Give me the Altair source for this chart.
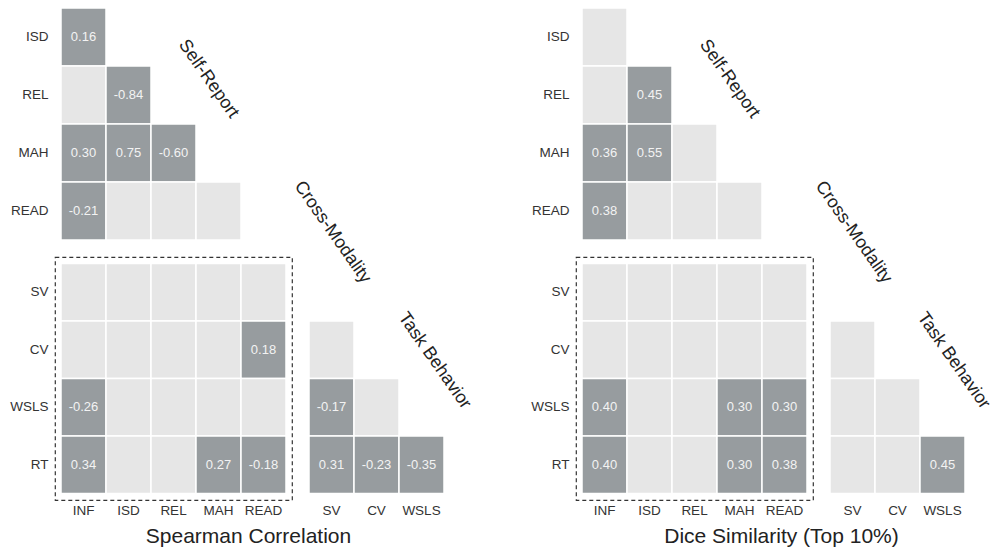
import math
import altair as alt
import pandas as pd

FONT = "Liberation Sans"
DARK = "#979c9f"
LIGHT = "#e6e6e6"

# Variable names per block
self_rows = ["ISD", "REL", "MAH", "READ"]
self_cols = ["INF", "ISD", "REL", "MAH"]
cross_rows = ["SV", "CV", "WSLS", "RT"]
cross_cols = ["INF", "ISD", "REL", "MAH", "READ"]
task_rows = ["CV", "WSLS", "RT"]
task_cols = ["SV", "CV", "WSLS"]

# Lower-triangle / rectangular grids; None = pair not significant (light cell)
spearman_self = [
    [0.16],
    [None, -0.84],
    [0.30, 0.75, -0.60],
    [-0.21, None, None, None],
]
spearman_cross = [
    [None, None, None, None, None],
    [None, None, None, None, 0.18],
    [-0.26, None, None, None, None],
    [0.34, None, None, 0.27, -0.18],
]
spearman_task = [
    [None],
    [-0.17, None],
    [0.31, -0.23, -0.35],
]

dice_self = [
    [None],
    [None, 0.45],
    [0.36, 0.55, None],
    [0.38, None, None, None],
]
dice_cross = [
    [None, None, None, None, None],
    [None, None, None, None, None],
    [0.40, None, None, 0.30, 0.30],
    [0.40, None, None, 0.30, 0.38],
]
dice_task = [
    [None],
    [None, None],
    [None, None, 0.45],
]

block_names = ["Self-Report", "Cross-Modality", "Task Behavior"]
panel_titles = ["Spearman Correlation", "Dice Similarity (Top 10%)"]

# Geometry of the grid (pixels)
COL = 45
PAD_X = 6
SELF_ROW, SELF_PAD = 58, 7
ROW, PAD_Y = 57.5, 6.5
ANGLE = 55
GAP_BLOCKS = 11     # between cross-modality and task blocks
GAP_PANELS = 126    # between the two panels


def cells(rows, cols, grid):
    recs = []
    for r, vals in zip(rows, grid):
        for c, v in zip(cols, vals):
            recs.append({
                "row": r,
                "col": c,
                "value": v,
                "sig": "yes" if v is not None else "no",
                "label": "" if v is None else f"{v:.2f}",
            })
    return pd.DataFrame(recs)


def enc_x(cols, show):
    sc = alt.Scale(domain=cols, paddingInner=0, paddingOuter=PAD_X / COL)
    if show:
        return alt.X("col:N", sort=cols, scale=sc, title=None,
                     axis=alt.Axis(labelAngle=0))
    return alt.X("col:N", sort=cols, scale=sc, axis=None)


def enc_y(rows, show, row_h, pad):
    sc = alt.Scale(domain=rows, paddingInner=0, paddingOuter=pad / row_h)
    if show:
        return alt.Y("row:N", sort=rows, scale=sc, title=None)
    return alt.Y("row:N", sort=rows, scale=sc, axis=None)


def heat(df, x, y):
    rect = alt.Chart(df).mark_rect(stroke="white", strokeWidth=1.5).encode(
        x=x, y=y,
        color=alt.Color("sig:N", scale=alt.Scale(domain=["yes", "no"], range=[DARK, LIGHT]),
                        legend=None),
    )
    txt = alt.Chart(df).mark_text(fontSize=13, color="#f3f3f3", font=FONT).encode(
        x=x, y=y, text="label:N"
    )
    return [rect, txt]


def name_label(text, col, row, x, y, ox, oy):
    # dx/dy act in the rotated text frame: turn a screen offset into that frame
    a = math.radians(ANGLE)
    dx = ox * math.cos(a) + oy * math.sin(a)
    dy = -ox * math.sin(a) + oy * math.cos(a)
    df = pd.DataFrame({"col": [col], "row": [row], "name": [text]})
    return alt.Chart(df).mark_text(
        angle=ANGLE, fontSize=18, font=FONT, color="#222222",
        align="center", baseline="middle", dx=round(dx, 1), dy=round(dy, 1),
    ).encode(x=x, y=y, text="name:N")


def blank(w, h=1):
    # invisible spacer cell of the layout grid
    return alt.Chart(pd.DataFrame({"v": [0]})).mark_point(opacity=0, size=0).encode(
        x=alt.X("v:Q", axis=None), y=alt.Y("v:Q", axis=None)
    ).properties(width=w, height=h)


def panel(self_grid, cross_grid, task_grid, title, title_x, task_ox):
    # Self-report triangle
    sx = enc_x(self_cols, False)
    sy = enc_y(self_rows, True, SELF_ROW, SELF_PAD)
    self_chart = alt.layer(
        *heat(cells(self_rows, self_cols, self_grid), sx, sy),
        name_label(block_names[0], "MAH", "ISD", sx, sy, -10, 42),
    ).properties(width=4 * COL + 2 * PAD_X, height=4 * SELF_ROW + 2 * SELF_PAD)

    # Cross-modality rectangle, framed with a dashed box
    cx = alt.X("col:N", sort=cross_cols,
               scale=alt.Scale(domain=cross_cols, paddingInner=0, paddingOuter=PAD_X / COL),
               axis=alt.Axis(labelAngle=0, title=title, titleX=title_x, titleY=42.5,
                             titleBaseline="alphabetic", titleFontSize=21,
                             titleFontWeight="normal", titleColor="#222222",
                             titleAnchor="start", titleAlign="center"))
    cy = enc_y(cross_rows, True, ROW, PAD_Y)
    cross_chart = alt.layer(
        *heat(cells(cross_rows, cross_cols, cross_grid), cx, cy),
    ).properties(
        width=5 * COL + 2 * PAD_X, height=4 * ROW + 2 * PAD_Y,
        view=alt.ViewBackground(stroke="#333333", strokeDash=[4, 3], strokeWidth=1.2),
    )

    # Task-behaviour triangle
    tx = enc_x(task_cols, True)
    ty = enc_y(cross_rows, False, ROW, PAD_Y)
    task_chart = alt.layer(
        *heat(cells(task_rows, task_cols, task_grid), tx, ty),
        name_label(block_names[1], "SV", "SV", tx, ty, 1, -60),
        name_label(block_names[2], "WSLS", "CV", tx, ty, task_ox, 11),
    ).properties(width=3 * COL + 2 * PAD_X, height=4 * ROW + 2 * PAD_Y)

    return self_chart, cross_chart, task_chart


sL, cL, tL = panel(spearman_self, spearman_cross, spearman_task, panel_titles[0], 193, 13)
sR, cR, tR = panel(dice_self, dice_cross, dice_task, panel_titles[1], 205, 11)

task_w = 3 * COL + 2 * PAD_X
spacer_w = GAP_PANELS - 2 * GAP_BLOCKS

chart = alt.concat(
    sL, blank(task_w), blank(spacer_w), sR, blank(task_w),
    cL, tL, blank(spacer_w), cR, tR,
    columns=5, spacing={"row": 10, "column": GAP_BLOCKS},
    bounds="flush", align="each",
).properties(
    padding={"left": 9, "top": 0, "right": 0, "bottom": 0}
).configure(font=FONT).configure_view(stroke="transparent").configure_axis(
    domain=False, ticks=False, labelFontSize=13.5, labelColor="#333333",
    labelPadding=7, labelFont=FONT, grid=False,
).configure_axisY(labelPadding=7).configure_axisX(labelPadding=3.5)

chart.save("out.html", embed_options={"renderer": "svg", "actions": False})
